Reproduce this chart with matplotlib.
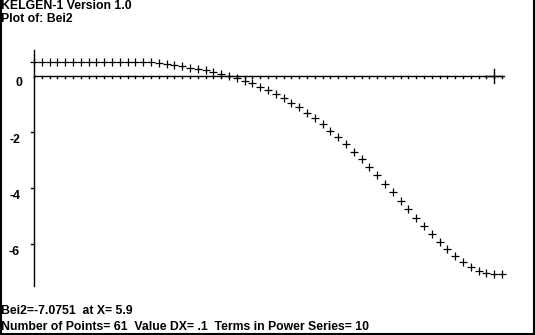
import numpy as np
import matplotlib
matplotlib.use('Agg')
import matplotlib.pyplot as plt

#### Data
n_points = 61
dx = 0.1
bei2 = [0.50, 0.50, 0.50, 0.50, 0.50, 0.50, 0.50, 0.50, 0.50, 0.50,
        0.50, 0.50, 0.50, 0.49, 0.49, 0.47, 0.44, 0.42, 0.38, 0.33,
        0.29, 0.25, 0.20, 0.14, 0.06, 0.00, -0.09, -0.19, -0.27, -0.40,
        -0.51, -0.65, -0.80, -0.98, -1.12, -1.34, -1.49, -1.72, -1.98, -2.17,
        -2.43, -2.73, -2.96, -3.24, -3.53, -3.85, -4.14, -4.46, -4.74, -5.06,
        -5.36, -5.63, -5.92, -6.18, -6.42, -6.63, -6.81, -6.94, -7.03, -7.07,
        -7.07]
ytick_vals = [-2, -4, -6]
ytick_labels = ['-2', '-4', '-6']
cursor_x = 5.9
title_lines = ['KELGEN-1 Version 1.0', 'Plot of: Bei2']
footer_lines = ['Bei2=-7.0751  at X= 5.9',
                'Number of Points= 61  Value DX= .1  Terms in Power Series= 10']

x = np.arange(n_points) * dx

W, H = 535, 335
x0_px, px_per_x = 34, 78.0      # screen mapping
y0_px, px_per_y = 75.7, 28.1

fig = plt.figure(figsize=(W/100, H/100), dpi=100)
ax = fig.add_axes([0, 0, 1, 1])
ax.set_xlim(-x0_px/px_per_x, (W - x0_px)/px_per_x)
ax.set_ylim((y0_px - H)/px_per_y, y0_px/px_per_y)
ax.axis('off')

def px(n):
    return n/px_per_y

def pxx(n):
    return n/px_per_x

k = 'black'
lw = 1.0

# axes
ax.plot([0, 0], [px(y0_px - 50), px(y0_px - 286)], color=k, lw=lw)
ax.plot([0, 6.02], [0, 0], color=k, lw=lw)
for t in x:
    ax.plot([t, t], [0, -px(2.5)], color=k, lw=lw)
for t in ytick_vals:
    ax.plot([-pxx(3), 0], [t, t], color=k, lw=lw)
# cursor cross
ax.plot([cursor_x, cursor_x], [px(6.5), -px(7)], color=k, lw=lw)
ax.plot([cursor_x - pxx(9), cursor_x + pxx(8)], [0, 0], color=k, lw=lw)

# data
ax.plot(x, bei2, '+', color=k, ms=5.2, mew=0.9)

font = dict(family=['Liberation Sans', 'DejaVu Sans'], fontweight='bold', fontsize=8.8)

def ftext(xp, yp, s, **kw):
    fig.text(xp/W, 1 - yp/H, s, va='center', **font, **kw)

ftext(1, 6, title_lines[0])
ftext(1, 19, title_lines[1])
ftext(22, y0_px + 7, '0', ha='right')
for t, lab in zip(ytick_vals, ytick_labels):
    ftext(20, y0_px - t*px_per_y + 8, lab, ha='right')
ftext(1, 311, footer_lines[0])
ftext(1, 327, footer_lines[1])

# window frame
for xs, ys in [([0.5, 0.5], [0, H]), ([W - 1.5, W - 1.5], [0, H]), ([0, W], [H - 1.5, H - 1.5])]:
    fig.add_artist(plt.Line2D([v/W for v in xs], [1 - v/H for v in ys], color=k, lw=1.5))

fig.savefig('out.png', dpi=100, facecolor='white')
